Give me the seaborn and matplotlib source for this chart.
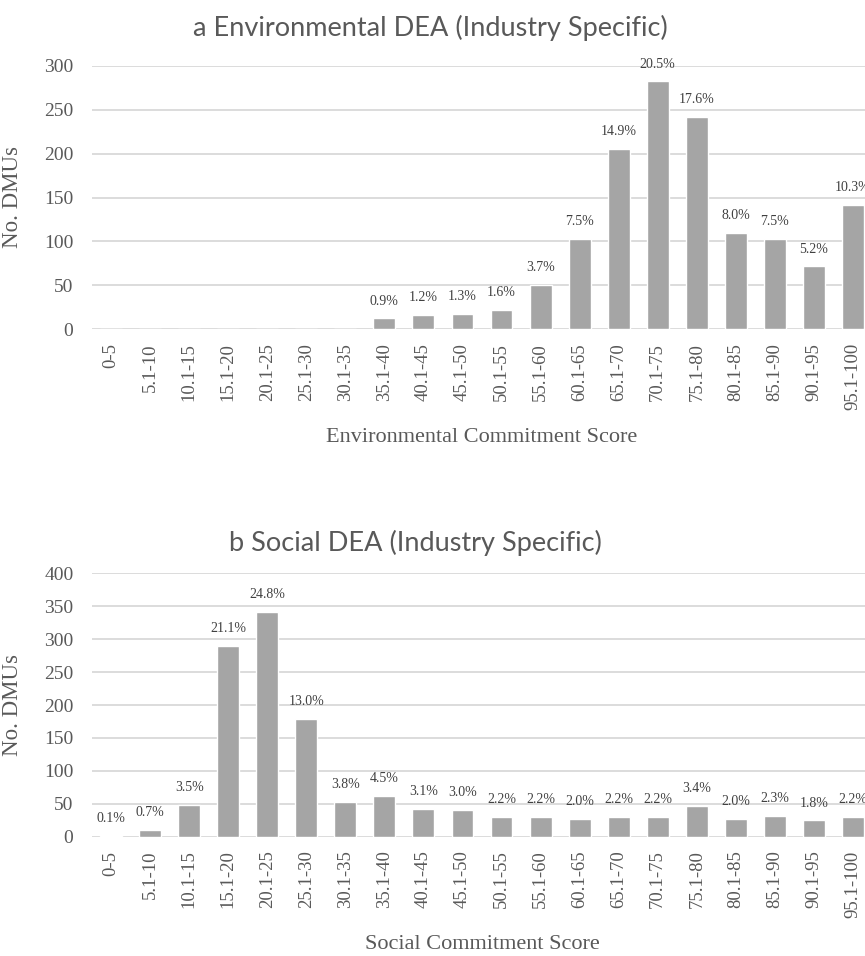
import matplotlib
matplotlib.use("Agg")
import matplotlib.pyplot as plt
import seaborn as sns
import pandas as pd

# Score bands shared by both panels
score_bands = ["0-5", "5.1-10", "10.1-15", "15.1-20", "20.1-25", "25.1-30",
               "30.1-35", "35.1-40", "40.1-45", "45.1-50", "50.1-55", "55.1-60",
               "60.1-65", "65.1-70", "70.1-75", "75.1-80", "80.1-85", "85.1-90",
               "90.1-95", "95.1-100"]

# Share of DMUs (%) in each band
env_pct = [0.0, 0.0, 0.0, 0.0, 0.0, 0.0, 0.0, 0.9, 1.2, 1.3, 1.6, 3.7,
           7.5, 14.9, 20.5, 17.6, 8.0, 7.5, 5.2, 10.3]
soc_pct = [0.1, 0.7, 3.5, 21.1, 24.8, 13.0, 3.8, 4.5, 3.1, 3.0, 2.2, 2.2,
           2.0, 2.2, 2.2, 3.4, 2.0, 2.3, 1.8, 2.2]

# Total number of DMUs evaluated
n_dmus = 1376

env_ticks = [0, 50, 100, 150, 200, 250, 300]
soc_ticks = [0, 50, 100, 150, 200, 250, 300, 350, 400]

sns.set_style("white")
plt.rcParams["font.family"] = ["Liberation Serif", "DejaVu Serif"]

BAR = "#a5a5a5"
GRID = "#d9d9d9"
TXT = "#595959"

W, H = 865, 956
fig = plt.figure(figsize=(W / 100, H / 100), dpi=100)

AX_LEFT = 91.5
AX_WIDTH = 781.0


def panel(top_px, bottom_px, pct, yticks, title, title_x, title_y, xlabel):
    ax = fig.add_axes([AX_LEFT / W, 1 - bottom_px / H, AX_WIDTH / W,
                       (bottom_px - top_px) / H])
    df = pd.DataFrame({"band": score_bands, "pct": pct})
    df["count"] = df["pct"] / 100.0 * n_dmus
    sns.barplot(data=df, x="band", y="count", color=BAR, saturation=1,
                width=0.56, ax=ax, zorder=3)
    ax.set_xlim(-0.5, len(score_bands) - 0.5)
    ax.set_ylim(yticks[0], yticks[-1])
    ax.set_yticks(yticks)
    ax.set_yticklabels([str(t) for t in yticks], fontsize=14, color=TXT)
    ax.set_xticks(range(len(score_bands)))
    ax.set_xticklabels(score_bands, rotation=90, fontsize=13.5, color=TXT)
    ax.tick_params(axis="both", length=0)
    ax.tick_params(axis="y", pad=13)
    ax.tick_params(axis="x", pad=10)
    ax.set_axisbelow(True)
    ax.grid(axis="y", color=GRID, linewidth=1.3)
    ax.grid(axis="x", visible=False)
    for s in ax.spines.values():
        s.set_visible(False)
    ax.set_xlabel("")
    ax.set_ylabel("No. DMUs", fontsize=16.5, color=TXT)
    ax.yaxis.set_label_coords(-0.088, 0.5)
    # percentage labels above each non-empty bar
    for i, (p, c) in enumerate(zip(df["pct"], df["count"])):
        if p > 0:
            ax.annotate(f"{p:.1f}%", (i, c), xytext=(0, 12.5),
                        textcoords="offset points", ha="center", va="center",
                        fontsize=10, color="#404040", annotation_clip=False)
    ax.text(0.5, -(108 / (bottom_px - top_px)), xlabel, transform=ax.transAxes,
            ha="center", va="center", fontsize=16, color=TXT)
    fig.text(title_x / W, 1 - title_y / H, title, ha="center", va="center",
             fontsize=19.5, color=TXT, family=["Lato", "DejaVu Sans"])
    return ax


panel(65.7, 329.3, env_pct, env_ticks, "a Environmental DEA (Industry Specific)",
      430, 28, "Environmental Commitment Score")
panel(573.3, 836.7, soc_pct, soc_ticks, "b Social DEA (Industry Specific)",
      415, 543, "Social Commitment Score")

fig.savefig("out.png", dpi=100, facecolor="white")
